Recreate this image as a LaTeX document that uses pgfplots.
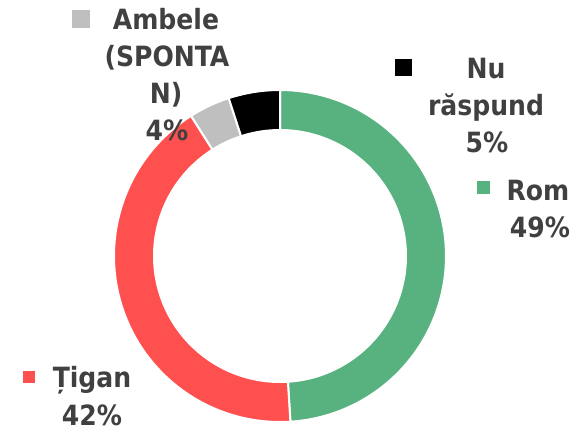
\documentclass[border=0pt]{standalone}
\usepackage{pgfplots}
\usepackage{pgfplotstable}
\pgfplotsset{compat=1.18}
\usepackage{fontspec}
\setmainfont{DejaVu Sans Condensed}
\definecolor{cRom}{RGB}{88,178,128}
\definecolor{cTig}{RGB}{255,80,80}
\definecolor{cAmb}{RGB}{191,191,191}
\definecolor{cNu}{RGB}{0,0,0}
\definecolor{txt}{RGB}{64,64,64}
\tikzset{lab/.style={text=txt, font=\fontsize{28}{34}\selectfont\bfseries, inner sep=0pt, anchor=base}}
\pgfplotstableread{
label value
Rom 49
Tigan 42
Ambele 4
Nu 5
}\shares
\begin{document}
\begin{tikzpicture}
\pgfplotstablegetelem{0}{value}\of\shares \pgfmathsetmacro{\vA}{\pgfplotsretval}
\pgfplotstablegetelem{1}{value}\of\shares \pgfmathsetmacro{\vB}{\pgfplotsretval}
\pgfplotstablegetelem{2}{value}\of\shares \pgfmathsetmacro{\vC}{\pgfplotsretval}
\pgfplotstablegetelem{3}{value}\of\shares \pgfmathsetmacro{\vD}{\pgfplotsretval}
\pgfmathsetmacro{\aA}{90}
\pgfmathsetmacro{\aB}{\aA-3.6*\vA}
\pgfmathsetmacro{\aC}{\aB-3.6*\vB}
\pgfmathsetmacro{\aD}{\aC-3.6*\vC}
\pgfmathsetmacro{\aE}{\aD-3.6*\vD}
\path[use as bounding box] (0,0) rectangle (577bp,434bp);
\begin{axis}[x=1bp, y=1bp, xmin=0, xmax=577, ymin=0, ymax=434, y dir=reverse,
  hide axis, clip=false, at={(0,0)}, anchor=south west]
\addplot[fill=cRom, draw=white, line width=2bp, line join=round, domain=\aB:\aA, samples=120] ({280+166*cos(x)},{256-166*sin(x)}) -- (axis cs:280,256) -- cycle;
\addplot[fill=cTig, draw=white, line width=2bp, line join=round, domain=\aC:\aB, samples=120] ({280+166*cos(x)},{256-166*sin(x)}) -- (axis cs:280,256) -- cycle;
\addplot[fill=cAmb, draw=white, line width=2bp, line join=round, domain=\aD:\aC, samples=30] ({280+166*cos(x)},{256-166*sin(x)}) -- (axis cs:280,256) -- cycle;
\addplot[fill=cNu, draw=white, line width=2bp, line join=round, domain=\aE:\aD, samples=30] ({280+166*cos(x)},{256-166*sin(x)}) -- (axis cs:280,256) -- cycle;
\addplot[fill=white, draw=none, domain=0:360, samples=180] ({280+127*cos(x)},{256-127*sin(x)}) -- cycle;
% labels
\node[lab] at (axis cs:166,29) {Ambele};
\node[lab] at (axis cs:167,66) {(SPONTA};
\node[lab] at (axis cs:166,103) {N)};
\node[lab] at (axis cs:167,140) {4\%};
\node[fill=cAmb, minimum size=18bp, inner sep=0pt, anchor=center] at (axis cs:81,19) {};
\node[lab] at (axis cs:486,78) {Nu};
\node[lab] at (axis cs:486,115) {răspund};
\node[lab] at (axis cs:487,152) {5\%};
\node[fill=cNu, minimum size=17bp, inner sep=0pt, anchor=center] at (axis cs:403.5,67.5) {};
\node[lab] at (axis cs:538,200) {Rom};
\node[lab] at (axis cs:540,237) {49\%};
\node[fill=cRom, minimum size=13bp, inner sep=0pt, anchor=center] at (axis cs:483.5,187.5) {};
\node[lab] at (axis cs:92,387) {Țigan};
\node[lab] at (axis cs:92,425) {42\%};
\node[fill=cTig, minimum size=12bp, inner sep=0pt, anchor=center] at (axis cs:29,377) {};
\end{axis}
\end{tikzpicture}
\end{document}
